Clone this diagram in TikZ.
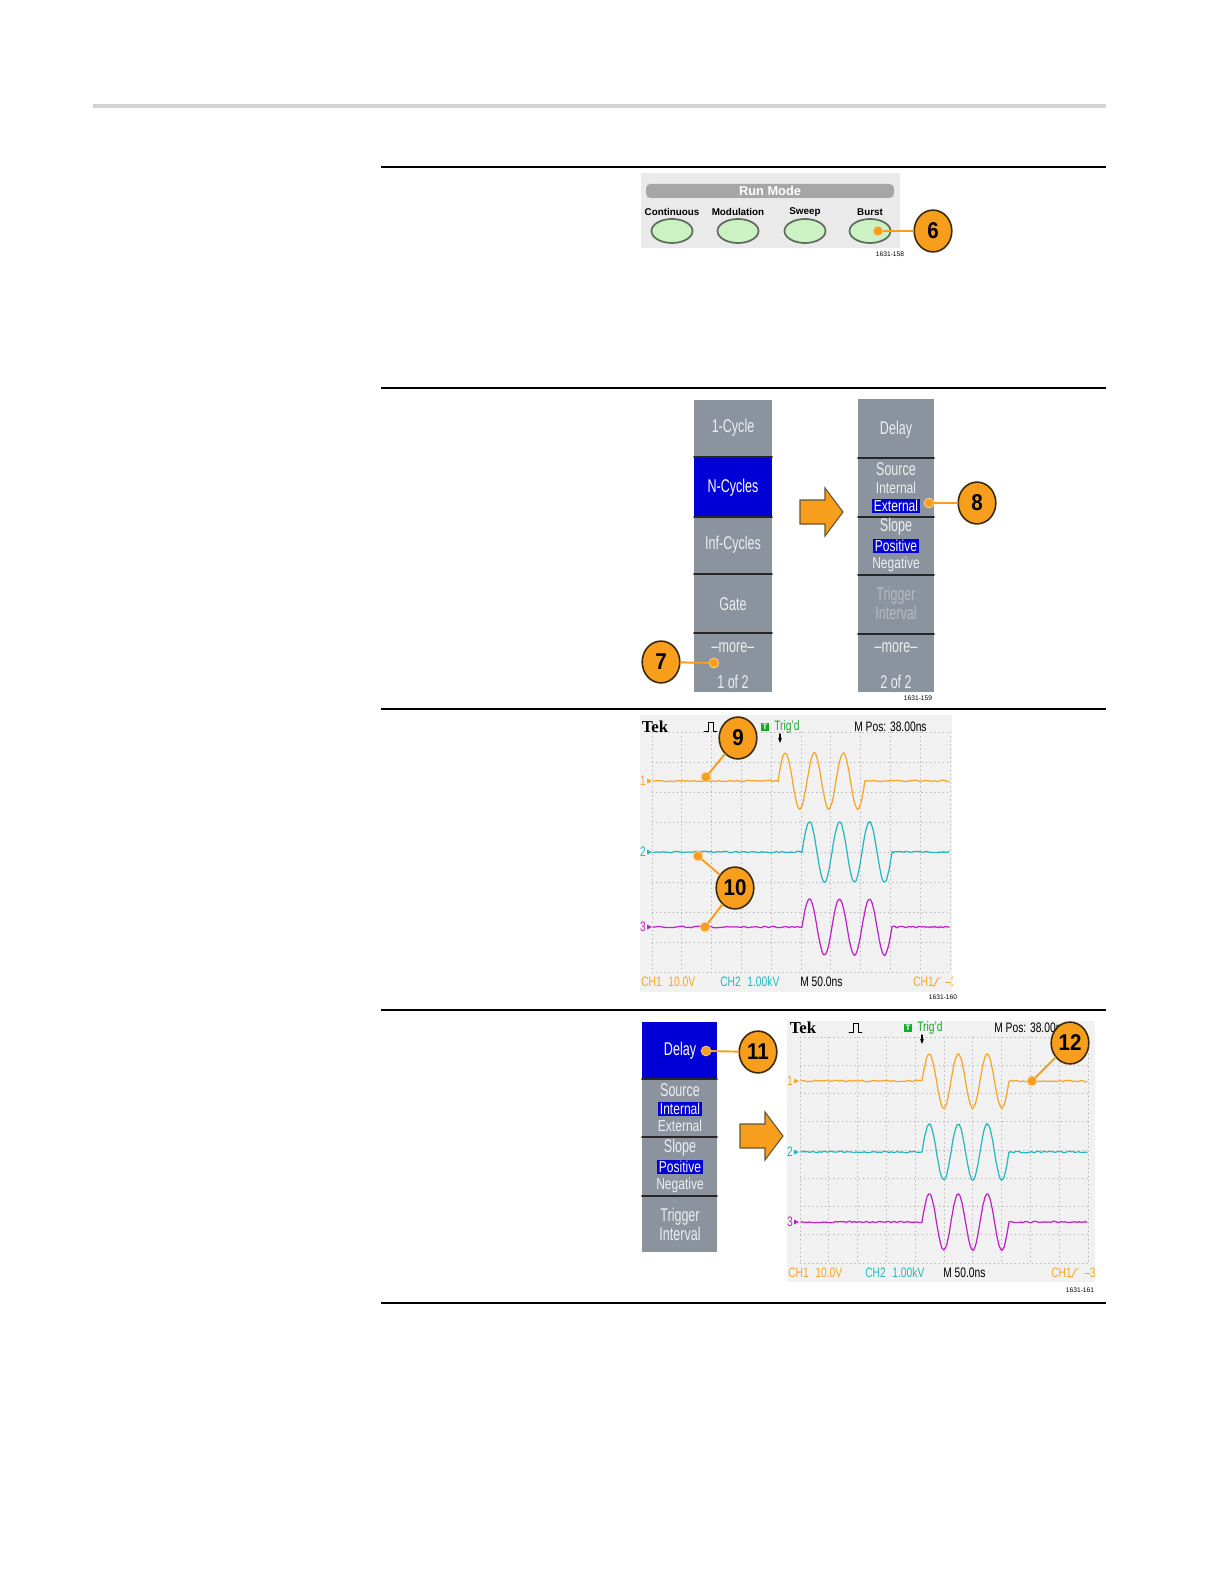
\documentclass[tikz,border=0pt]{standalone}
\usepackage{fontspec}
\setmainfont{Liberation Sans}
\newfontfamily\tekfont{Liberation Serif}
\usetikzlibrary{arrows.meta}
\definecolor{callorange}{RGB}{247,158,28}
\definecolor{callrim}{RGB}{60,40,10}
\definecolor{menugray}{RGB}{139,148,158}
\definecolor{menublue}{RGB}{0,0,214}
\definecolor{menutext}{RGB}{236,238,240}
\definecolor{dimtext}{RGB}{180,186,192}
\definecolor{panelgray}{RGB}{234,234,234}
\definecolor{headgray}{RGB}{166,166,166}
\definecolor{btngreen}{RGB}{204,242,196}
\definecolor{btnrim}{RGB}{96,108,96}
\definecolor{chone}{RGB}{246,166,38}
\definecolor{chtwo}{RGB}{38,184,190}
\definecolor{chthree}{RGB}{192,34,200}
\definecolor{trigreen}{RGB}{20,170,40}
\definecolor{scopebg}{RGB}{241,241,241}
\newcommand{\burstwave}[7]{%
  \draw[wave,#1] plot[domain=#3:#4,samples=60] (\x,{#2+0.8*rand})
    -- plot[domain=#4:#4+3*#5,samples=120] (\x,{#2-#6*sin((\x-#4)/#5*360)+0.6*rand})
    -- plot[domain=#4+3*#5:#7,samples=40] (\x,{#2+0.8*rand});}

\begin{document}
\begin{tikzpicture}[x=0.02cm,y=-0.02cm,>={Stealth[length=3pt]},line cap=round,
  menutxt/.style={text=menutext,font=\fontsize{10.5}{11}\selectfont,xscale=0.68,inner sep=0pt},
  menusmall/.style={text=menutext,font=\fontsize{9}{10}\selectfont,xscale=0.76,inner sep=0pt},
  hilite/.style={menusmall,fill=menublue,text=white,inner xsep=1.2pt,inner ysep=0.8pt},
  divider/.style={black!85,line width=1pt},
  callout/.style={circle,fill=callorange,draw=callrim,line width=0.9pt,minimum size=23.8pt,
    inner sep=0pt,font=\bfseries\fontsize{13}{13}\selectfont,xscale=0.9},
  calldot/.style={circle,fill=callorange,draw=callorange!45!white,line width=0.4pt,
    minimum size=5.6pt,inner sep=0pt},
  callline/.style={callorange,line width=1.1pt},
  bigarrow/.style={fill=callorange,draw=callrim!80,line width=0.6pt,line join=miter},
  btn/.style={fill=btngreen,draw=btnrim,line width=1pt},
  btnlbl/.style={font=\bfseries\fontsize{5.6}{6}\selectfont,inner sep=0pt},
  griddot/.style={gray!60,dotted,line width=0.4pt},
  wave/.style={line width=0.7pt,line join=round},
  scopetxt/.style={font=\fontsize{7.8}{8}\selectfont,xscale=0.75,inner sep=0pt},
  figno/.style={font=\fontsize{3.8}{4}\selectfont,inner sep=0pt}]
\fill[white] (0,0) rectangle (1224,1584);
\draw[gray!35,line width=2.3pt,line cap=butt] (93,106) -- (1106,106);
\foreach \yy in {167,388,709,1010,1303}
  \draw[line width=0.6pt,line cap=butt] (381,\yy) -- (1106,\yy);

% run mode buttons
\fill[panelgray] (641,173) rectangle (900,248);
\fill[headgray,rounded corners=2.5pt] (646,184) rectangle (894,198);
\node[font=\bfseries\fontsize{7.3}{8}\selectfont,text=white,inner sep=0pt] (runmode) at (770,191) {Run Mode};
\foreach \name/\xx in {Continuous/672,Modulation/738,Sweep/805,Burst/870}{
  \node[btnlbl] (lbl\name) at (\xx,212) {\name};
  \draw[btn] (\xx,231) ellipse [x radius=20.5,y radius=12];
}
\node[calldot] (d6) at (878,231) {};
\node[callout] (c6) at (933,231) {6};
\draw[callline] (d6) -- (c6);
\node[figno] (fig158) at (890,254) {1631-158};

% burst menu, page 1
\fill[menugray] (694,400) rectangle (772,692);
\fill[menublue] (694,457) rectangle (772,517);
\foreach \yy in {457,517,574,633} \draw[divider] (694,\yy) -- (772,\yy);
\node[menutxt] (cyc1) at (733,428) {1-Cycle};
\node[menutxt,text=white] (cycn) at (733,488) {N-Cycles};
\node[menutxt] (cycinf) at (733,545) {Inf-Cycles};
\node[menutxt] (gate) at (733,604) {Gate};
\node[menutxt] (more7) at (733,648) {–more–};
\node[menutxt] (page7) at (733,682) {1 of 2};

\filldraw[bigarrow] (800,500) -- (825,500) -- (825,488) -- (843,512) -- (825,536) -- (825,524) -- (800,524) -- cycle;

% burst menu, page 2
\fill[menugray] (858,399) rectangle (934,692);
\foreach \yy in {458,517,575,634} \draw[divider] (858,\yy) -- (934,\yy);
\node[menutxt] (delay8) at (896,430) {Delay};
\node[menutxt] (src8) at (896,469) {Source};
\node[menusmall] (int8) at (896,488) {Internal};
\node[hilite] (ext8) at (896,506) {External};
\node[menutxt] (slope8) at (896,527) {Slope};
\node[hilite] (pos8) at (896,546) {Positive};
\node[menusmall] (neg8) at (896,564) {Negative};
\node[menutxt,text=dimtext] (trig8) at (896,596) {Trigger};
\node[menutxt,text=dimtext] (intv8) at (896,613) {Interval};
\node[menutxt] (more8) at (896,648) {–more–};
\node[menutxt] (page8) at (896,682) {2 of 2};
\node[figno] (fig159) at (918,698) {1631-159};

\node[calldot] (d7) at (714,663) {};
\node[callout] (c7) at (661,662) {7};
\draw[callline] (d7) -- (c7);
\node[calldot] (d8) at (929,503) {};
\node[callout] (c8) at (977,503) {8};
\draw[callline] (d8) -- (c8);

% scope screen, external trigger
\begin{scope}
\clip (640,715) rectangle (952,992);
\fill[scopebg] (640,715) rectangle (952,992);
\foreach \i in {0,...,10} \draw[griddot] ({652+29.8*\i},732) -- ({652+29.8*\i},972);
\foreach \j in {0,...,8} \draw[griddot] (652,{732+30*\j}) -- (950,{732+30*\j});
\node[font=\tekfont\bfseries\fontsize{9.5}{10}\selectfont,inner sep=0pt] (tek1) at (655,727) {Tek};
\draw[line width=0.5pt] (704,731) -- (708,731) -- (708,722) -- (713,722) -- (713,731) -- (717,731);
\node[fill=trigreen,text=white,font=\bfseries\fontsize{4.5}{5}\selectfont,inner sep=0pt,minimum size=4.6pt] (tbox1) at (765,727) {T};
\node[scopetxt,anchor=west,text=trigreen] (trig1) at (774,727) {Trig'd};
\node[scopetxt,anchor=west] (mpos1) at (854,727) {M Pos: 38.00ns};
\draw[->,line width=0.6pt] (780,734) -- (780,743);
\pgfmathsetseed{11}
\burstwave{chone}{781}{653}{778}{29}{28}{949}
\burstwave{chtwo}{852}{653}{802}{30}{30}{949}
\burstwave{chthree}{927}{653}{802}{30}{28}{949}
\foreach \lbl/\yy/\col in {1/781/chone,2/852/chtwo,3/927/chthree}{
  \node[scopetxt,text=\col] (mk\lbl) at (643,\yy) {\lbl};
  \fill[\col] (647,\yy-2.5) -- (652,\yy) -- (647,\yy+2.5) -- cycle;
}
\node[scopetxt,anchor=west,text=chone] (ch1a) at (641,982) {CH1\hspace{5pt}10.0V};
\node[scopetxt,anchor=west,text=chtwo] (ch2a) at (720,982) {CH2\hspace{5pt}1.00kV};
\node[scopetxt,anchor=west] (timea) at (800,982) {M 50.0ns};
\node[scopetxt,anchor=west,text=chone] (ch1b) at (913,982) {CH1};
\draw[chone,line width=0.5pt] (932,986) -- (934,986) -- (938,978) -- (941,978);
\node[scopetxt,anchor=west,text=chone] (dasha) at (945,982) {–3};
\end{scope}
\node[figno] (fig160) at (943,997) {1631-160};

\node[calldot] (d9) at (706,777) {};
\node[callout] (c9) at (738,738) {9};
\draw[callline] (d9) -- (c9);
\node[calldot] (d10a) at (698,856) {};
\node[calldot] (d10b) at (705,927) {};
\node[callout] (c10) at (735,888) {10};
\draw[callline] (d10a) -- (c10);
\draw[callline] (d10b) -- (c10);

% delay menu
\fill[menugray] (642,1022) rectangle (717,1252);
\fill[menublue] (642,1022) rectangle (717,1079);
\foreach \yy in {1079,1137,1196} \draw[divider] (642,\yy) -- (717,\yy);
\node[menutxt,text=white] (delay11) at (680,1051) {Delay};
\node[menutxt] (src11) at (680,1090) {Source};
\node[hilite] (int11) at (680,1109) {Internal};
\node[menusmall] (ext11) at (680,1126) {External};
\node[menutxt] (slope11) at (680,1148) {Slope};
\node[hilite] (pos11) at (680,1167) {Positive};
\node[menusmall] (neg11) at (680,1185) {Negative};
\node[menutxt] (trig11) at (680,1217) {Trigger};
\node[menutxt] (intv11) at (680,1234) {Interval};
\node[calldot] (d11) at (706,1051) {};
\node[callout] (c11) at (758,1052) {11};
\draw[callline] (d11) -- (c11);

\filldraw[bigarrow] (740,1124) -- (765,1124) -- (765,1112) -- (783,1136) -- (765,1160) -- (765,1148) -- (740,1148) -- cycle;

% scope screen, delayed burst
\begin{scope}
\clip (787,1021) rectangle (1095,1282);
\fill[scopebg] (787,1021) rectangle (1095,1282);
\foreach \i in {0,...,10} \draw[griddot] ({800+28.8*\i},1037) -- ({800+28.8*\i},1263);
\foreach \j in {0,...,8} \draw[griddot] (800,{1037+28.25*\j}) -- (1088,{1037+28.25*\j});
\node[font=\tekfont\bfseries\fontsize{9.5}{10}\selectfont,inner sep=0pt] (tek2) at (803,1028) {Tek};
\draw[line width=0.5pt] (849,1032) -- (853,1032) -- (853,1023) -- (858,1023) -- (858,1032) -- (862,1032);
\node[fill=trigreen,text=white,font=\bfseries\fontsize{4.5}{5}\selectfont,inner sep=0pt,minimum size=4.6pt] (tbox2) at (908,1028) {T};
\node[scopetxt,anchor=west,text=trigreen] (trig2) at (917,1028) {Trig'd};
\node[scopetxt,anchor=west] (mpos2) at (994,1028) {M Pos: 38.00ns};
\draw[->,line width=0.6pt] (922,1035) -- (922,1044);
\pgfmathsetseed{23}
\burstwave{chone}{1081}{801}{922}{29}{27}{1087}
\burstwave{chtwo}{1152}{801}{922}{29}{28}{1087}
\burstwave{chthree}{1222}{801}{922}{29}{28}{1087}
\foreach \lbl/\yy/\col in {1/1081/chone,2/1152/chtwo,3/1222/chthree}{
  \node[scopetxt,text=\col] (mkb\lbl) at (790,\yy) {\lbl};
  \fill[\col] (794,\yy-2.5) -- (799,\yy) -- (794,\yy+2.5) -- cycle;
}
\node[scopetxt,anchor=west,text=chone] (ch1c) at (788,1273) {CH1\hspace{5pt}10.0V};
\node[scopetxt,anchor=west,text=chtwo] (ch2c) at (865,1273) {CH2\hspace{5pt}1.00kV};
\node[scopetxt,anchor=west] (timec) at (943,1273) {M 50.0ns};
\node[scopetxt,anchor=west,text=chone] (ch1d) at (1051,1273) {CH1};
\draw[chone,line width=0.5pt] (1070,1277) -- (1072,1277) -- (1076,1269) -- (1079,1269);
\node[scopetxt,anchor=west,text=chone] (dashc) at (1084,1273) {–3};
\end{scope}
\node[figno] (fig161) at (1080,1290) {1631-161};

\node[calldot] (d12) at (1032,1081) {};
\node[callout] (c12) at (1070,1043) {12};
\draw[callline] (d12) -- (c12);
\end{tikzpicture}
\end{document}
